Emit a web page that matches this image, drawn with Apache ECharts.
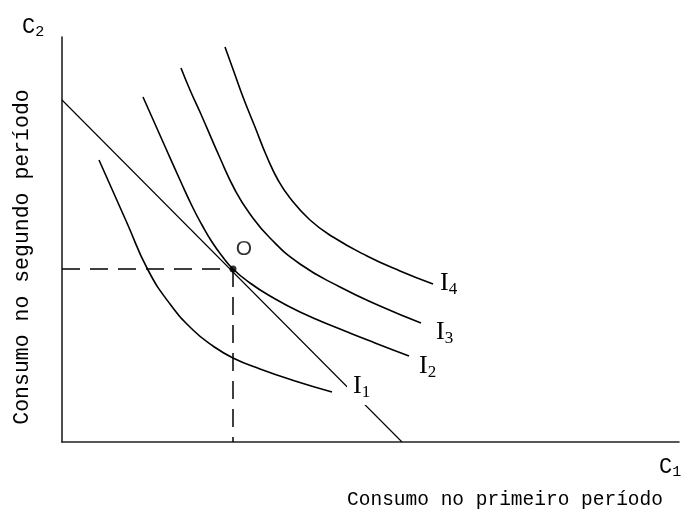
<!DOCTYPE html>
<html>
<head>
<meta charset="utf-8">
<script src="https://cdn.jsdelivr.net/npm/echarts@6/dist/echarts.min.js"></script>
<style>
html,body{margin:0;padding:0;background:#fff;}
#chart{width:687px;height:517px;}
</style>
</head>
<body>
<div id="chart"></div>
<script>
// Data (x: consumption in period 1, y: consumption in period 2)
var budgetLine = [[0, 342], [340, 0]];
var curveI1 = [[37,282],[65,219],[86,172],[108,138],[131,112],[151,96],[171,84],[198,73],[233,61],[270,50]];
var curveI2 = [[81,345],[101,300],[118,262],[131,234],[140,217],[150,200],[160,186],[171,173],[188,159],[208,146],[238,130],[278,113],[313,99],[347,86]];
var curveI3 = [[119,374],[128,352],[138,330],[158,284],[173,252],[188,228],[208,204],[238,178],[278,155],[318,136],[359,119]];
var curveI4 = [[163,395],[172,370],[181,345],[193,315],[205,285],[216,262],[228,244],[248,222],[271,205],[305,186],[338,171],[371,158]];
var pointO = [171, 173];
var curveNames = ['1', '2', '3', '4'];
var xTitle = 'Consumo no primeiro período';
var yTitle = 'Consumo no segundo período';

var chart = echarts.init(document.getElementById('chart'), null, {renderer: 'canvas'});

var iRich = {
  i: {fontFamily: 'Liberation Serif', fontSize: 26, lineHeight: 30, color: '#000', verticalAlign: 'top'},
  s: {fontFamily: 'Liberation Serif', fontSize: 17, lineHeight: 20, color: '#000', verticalAlign: 'top', padding: [11, 0, 0, 0]}
};
var cRich = {
  c: {fontFamily: 'Liberation Mono', fontSize: 22, lineHeight: 24, color: '#000', fontWeight: 'normal', verticalAlign: 'top'},
  s: {fontFamily: 'Liberation Mono', fontSize: 15, lineHeight: 16, color: '#000', fontWeight: 'normal', verticalAlign: 'top', padding: [9, 0, 0, 0]}
};

function curve(data, idx, offset, extra) {
  var lbl = {
    show: true,
    formatter: '{i|I}{s|' + curveNames[idx] + '}',
    distance: 0,
    offset: offset,
    rich: iRich
  };
  if (extra) { for (var k in extra) lbl[k] = extra[k]; }
  return {
    type: 'line',
    data: data,
    smooth: true,
    showSymbol: false,
    symbol: 'none',
    z: 3,
    lineStyle: {color: '#000', width: 1.6},
    endLabel: lbl,
    silent: true,
    animation: false
  };
}

var option = {
  animation: false,
  backgroundColor: '#fff',
  grid: {left: 62, right: 8, top: 37, bottom: 75, containLabel: false},
  title: [
    {text: '{c|C}{s|2}', left: 22, top: 16, padding: 0, textStyle: {fontWeight: 'normal', rich: cRich}},
    {text: '{c|C}{s|1}', left: 659, top: 456, padding: 0, textStyle: {fontWeight: 'normal', rich: cRich}}
  ],
  xAxis: {
    type: 'value', min: 0, max: 617,
    axisLine: {show: true, lineStyle: {color: '#222', width: 1.6}},
    axisTick: {show: false}, axisLabel: {show: false}, splitLine: {show: false}
  },
  yAxis: {
    type: 'value', min: 0, max: 405,
    axisLine: {show: true, lineStyle: {color: '#222', width: 1.6}},
    axisTick: {show: false}, axisLabel: {show: false}, splitLine: {show: false}
  },
  graphic: [
    {type: 'text', x: 505, y: 500, style: {text: xTitle, fontFamily: 'Liberation Mono', fontSize: 19.5, fill: '#000', align: 'center', verticalAlign: 'middle'}},
    {type: 'text', x: 22, y: 257, rotation: Math.PI / 2, style: {text: yTitle, fontFamily: 'Liberation Mono', fontSize: 21.5, fill: '#000', align: 'center', verticalAlign: 'middle'}}
  ],
  series: [
    {
      type: 'line', data: budgetLine, showSymbol: false, symbol: 'none', z: 1,
      lineStyle: {color: '#000', width: 1.1}, silent: true
    },
    {
      type: 'line', data: [[0, pointO[1]], pointO], showSymbol: false, symbol: 'none', z: 1,
      lineStyle: {color: '#000', width: 1.5, type: [18, 10]}, silent: true
    },
    {
      type: 'line', data: [pointO, [pointO[0], 0]], showSymbol: false, symbol: 'none', z: 1,
      lineStyle: {color: '#000', width: 1.5, type: [18, 10]}, silent: true
    },
    curve(curveI1, 0, [15, -4], {backgroundColor: '#fff', padding: [2, 3, 2, 6]}),
    curve(curveI2, 1, [10, 12]),
    curve(curveI3, 2, [15, 11]),
    curve(curveI4, 3, [7, 1]),
    {
      type: 'scatter', data: [pointO], symbolSize: 7, z: 5,
      itemStyle: {color: '#000'},
      label: {show: true, formatter: 'O', position: 'inside', offset: [11, -20],
        fontFamily: 'Liberation Sans', fontSize: 21, color: '#000'},
      silent: true
    }
  ]
};
chart.setOption(option);
</script>
</body>
</html>
